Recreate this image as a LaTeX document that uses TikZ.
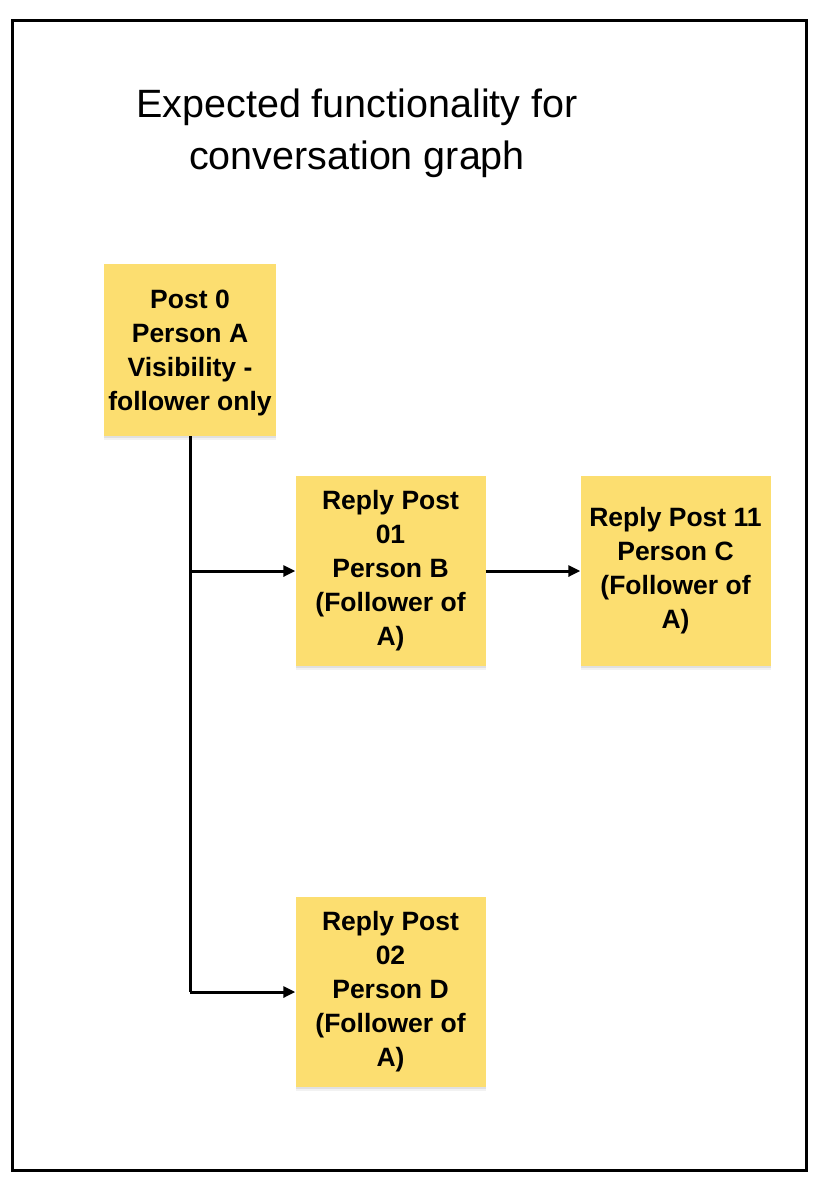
\documentclass[tikz,border=0pt]{standalone}
\usepackage{fontspec}
\setmainfont{Liberation Sans}
\usetikzlibrary{arrows.meta,shadows}
\definecolor{sticky}{RGB}{252,222,112}
\begin{document}
\begin{tikzpicture}[x=1pt,y=-1pt,
  note/.style={fill=sticky, draw=none, minimum width=#1, minimum height=#1, inner sep=0pt,
    align=center, font=\fontsize{26.5}{34}\selectfont\bfseries,
    drop shadow={shadow xshift=0pt, shadow yshift=-4pt, opacity=0.05, fill=black},
    drop shadow={shadow xshift=0pt, shadow yshift=-2pt, opacity=0.07, fill=black}},
  conn/.style={line width=3pt, -{Triangle[length=12pt,width=11pt]}},
  plain/.style={line width=3pt}]
\useasboundingbox (0,0) rectangle (812,1184);
\fill[white] (0,0) rectangle (812,1184);
\draw[line width=3pt] (12,20) rectangle (806,1170);
\node[font=\fontsize{39.5}{52}\selectfont, align=center] (title) at (357,133)
  {Expected functionality for\\conversation graph};
\node[note=172pt] (p0) at (190,350) {\strut Post 0\\Person A\\Visibility -\\follower only};
\node[note=190pt] (p01) at (390.5,571) {Reply Post\\01\\Person B\\(Follower of\\A)};
\node[note=190pt] (p11) at (675.5,571) {Reply Post 11\\Person C\\(Follower of\\A)};
\node[note=190pt] (p02) at (390.5,992) {Reply Post\\02\\Person D\\(Follower of\\A)};
\coordinate (j1) at (p0.south |- p01.west);
\coordinate (j2) at (p0.south |- p02.west);
\draw[plain] (p0.south) -- (j2);
\draw[conn] (j1) -- (p01.west);
\draw[conn] (j2) -- (p02.west);
\draw[conn] (p01.east) -- (p11.west);
\end{tikzpicture}
\end{document}
